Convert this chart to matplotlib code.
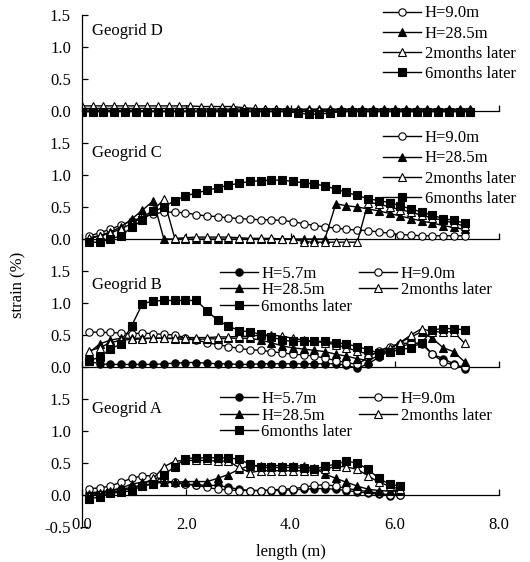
import matplotlib
matplotlib.use("Agg")
import matplotlib.pyplot as plt

plt.rcParams['font.family'] = ['Liberation Serif', 'DejaVu Serif']
plt.rcParams['font.size'] = 12

# --- data ---
# gauge positions (m)
x_d = [0.0, 0.21, 0.41, 0.62, 0.83, 1.04, 1.24, 1.45, 1.66, 1.86, 2.07, 2.28, 2.48,
       2.69, 2.9, 3.11, 3.31, 3.52, 3.73, 3.93, 4.14, 4.35, 4.55, 4.76, 4.97, 5.18,
       5.38, 5.59, 5.8, 6.0, 6.21, 6.42, 6.62, 6.83, 7.04, 7.25, 7.45]
x_c = [0.13, 0.34, 0.54, 0.75, 0.95, 1.16, 1.37, 1.57, 1.78, 1.98, 2.19, 2.40, 2.60,
       2.81, 3.01, 3.22, 3.43, 3.63, 3.84, 4.04, 4.25, 4.46, 4.66, 4.87, 5.07, 5.28,
       5.49, 5.69, 5.90, 6.10, 6.31, 6.52, 6.72, 6.93, 7.13, 7.34]
x_b = x_c
x_a = x_c[:30]

# Geogrid D
d_h90 = [0.02, 0.01, 0.01, 0.01, 0.01, 0.01, 0.0, 0.0, 0.0, 0.0, 0.0, 0.0, 0.0,
         0.01, 0.01, 0.0, 0.0, 0.0, 0.0, 0.0, 0.0, 0.0, 0.0, 0.0, 0.0, 0.0,
         0.0, 0.0, 0.0, 0.0, 0.0, 0.0, 0.0, 0.0, 0.0, 0.0, 0.0]
d_h285 = [0.04, 0.04, 0.04, 0.04, 0.04, 0.04, 0.04, 0.04, 0.04, 0.04, 0.04, 0.03, 0.03,
          0.03, 0.03, 0.03, 0.03, 0.03, 0.03, 0.03, 0.03, 0.03, 0.03, 0.03, 0.03, 0.03,
          0.03, 0.03, 0.03, 0.03, 0.03, 0.03, 0.03, 0.03, 0.03, 0.03, 0.03]
d_2m = [0.08, 0.08, 0.08, 0.08, 0.08, 0.08, 0.08, 0.08, 0.08, 0.08, 0.08, 0.07, 0.07,
        0.07, 0.07, 0.05, 0.04, 0.03, 0.03, 0.02, 0.02, 0.02, 0.02, 0.02, 0.02, 0.02,
        0.02, 0.02, 0.02, 0.02, 0.02, 0.02, 0.02, 0.02, 0.02, 0.02, 0.02]
d_6m = [-0.01, -0.01, -0.01, -0.01, -0.01, -0.01, -0.01, -0.01, -0.01, -0.01, -0.01, -0.01, -0.01,
        -0.01, -0.01, -0.01, -0.01, -0.01, -0.01, -0.01, -0.03, -0.05, -0.05, -0.03, -0.01, -0.01,
        -0.01, -0.01, -0.01, -0.01, -0.01, -0.01, -0.01, -0.01, -0.01, -0.01, -0.01]

# Geogrid C
c_h90 = [0.04, 0.10, 0.15, 0.22, 0.28, 0.34, 0.39, 0.42, 0.42, 0.41, 0.38, 0.36, 0.35,
         0.33, 0.32, 0.31, 0.30, 0.30, 0.29, 0.27, 0.24, 0.21, 0.19, 0.17, 0.15, 0.14,
         0.13, 0.11, 0.09, 0.07, 0.06, 0.05, 0.05, 0.05, 0.05, 0.05]
c_h285 = [0.0, 0.05, 0.11, 0.19, 0.31, 0.45, 0.60, 0.0, 0.0, 0.0, 0.0, 0.0, 0.0,
          0.0, 0.0, 0.0, 0.0, 0.0, 0.0, 0.0, 0.0, 0.0, 0.0, 0.55, 0.52, 0.50,
          0.47, 0.44, 0.40, 0.36, 0.32, 0.28, 0.25, 0.21, 0.18, 0.15]
c_2m = [0.02, 0.05, 0.09, 0.16, 0.24, 0.34, 0.45, 0.62, 0.01, 0.02, 0.03, 0.03, 0.03,
        0.03, 0.02, 0.01, 0.01, 0.01, 0.0, 0.0, -0.04, -0.05, -0.05, -0.05, -0.05, -0.05,
        0.57, 0.55, 0.50, 0.46, 0.42, 0.37, 0.33, 0.29, 0.25, 0.20]
c_6m = [-0.05, -0.05, 0.0, 0.05, 0.18, 0.30, 0.43, 0.50, 0.60, 0.67, 0.72, 0.76, 0.80,
        0.84, 0.87, 0.90, 0.91, 0.92, 0.92, 0.90, 0.88, 0.86, 0.83, 0.78, 0.73, 0.68,
        0.63, 0.60, 0.57, 0.52, 0.47, 0.42, 0.37, 0.32, 0.29, 0.25]

# Geogrid B
b_h57 = [0.09, 0.05, 0.04, 0.04, 0.04, 0.04, 0.04, 0.05, 0.06, 0.07, 0.07, 0.06, 0.05,
         0.05, 0.04, 0.04, 0.05, 0.05, 0.05, 0.05, 0.05, 0.05, 0.05, 0.05, 0.03, -0.02,
         0.05, 0.15, 0.25, 0.32, 0.36, 0.38, 0.20, 0.13, 0.05, -0.03]
b_h90 = [0.55, 0.54, 0.54, 0.53, 0.52, 0.53, 0.52, 0.51, 0.50, 0.46, 0.42, 0.38, 0.35,
         0.32, 0.29, 0.27, 0.26, 0.24, 0.22, 0.20, 0.19, 0.17, 0.14, 0.10, 0.07, 0.04,
         0.15, 0.25, 0.32, 0.36, 0.38, 0.36, 0.20, 0.08, 0.03, 0.0]
b_h285 = [0.22, 0.36, 0.42, 0.45, 0.45, 0.45, 0.45, 0.45, 0.44, 0.43, 0.43, 0.44, 0.44,
          0.45, 0.45, 0.45, 0.42, 0.38, 0.33, 0.30, 0.28, 0.26, 0.24, 0.20, 0.17, 0.13,
          0.10, 0.18, 0.28, 0.38, 0.47, 0.55, 0.45, 0.30, 0.24, 0.08]
b_2m = [0.25, 0.30, 0.38, 0.42, 0.43, 0.44, 0.45, 0.45, 0.45, 0.46, 0.46, 0.46, 0.47,
        0.47, 0.48, 0.48, 0.50, 0.50, 0.48, 0.45, 0.42, 0.40, 0.38, 0.35, 0.30, 0.25,
        0.20, 0.22, 0.30, 0.38, 0.50, 0.60, 0.55, 0.55, 0.55, 0.37]
b_6m = [0.10, 0.15, 0.28, 0.36, 0.64, 0.99, 1.03, 1.04, 1.04, 1.04, 1.04, 0.88, 0.73,
        0.64, 0.57, 0.55, 0.51, 0.47, 0.42, 0.40, 0.40, 0.40, 0.40, 0.38, 0.36, 0.32,
        0.27, 0.22, 0.24, 0.27, 0.30, 0.38, 0.58, 0.60, 0.60, 0.58]

# Geogrid A
a_h57 = [0.03, 0.05, 0.07, 0.09, 0.12, 0.15, 0.18, 0.20, 0.19, 0.17, 0.16, 0.15, 0.15,
         0.12, 0.09, 0.07, 0.07, 0.07, 0.07, 0.08, 0.09, 0.10, 0.10, 0.09, 0.07, 0.05,
         0.03, 0.01, -0.01, 0.0]
a_h90 = [0.10, 0.11, 0.14, 0.20, 0.26, 0.30, 0.30, 0.22, 0.20, 0.17, 0.15, 0.12, 0.09,
         0.08, 0.07, 0.07, 0.07, 0.08, 0.09, 0.10, 0.12, 0.15, 0.16, 0.14, 0.10, 0.08,
         0.05, 0.03, 0.0, 0.0]
a_h285 = [0.02, 0.03, 0.07, 0.11, 0.17, 0.20, 0.21, 0.21, 0.20, 0.21, 0.21, 0.21, 0.26,
          0.32, 0.40, 0.46, 0.46, 0.46, 0.46, 0.46, 0.45, 0.42, 0.33, 0.26, 0.20, 0.14,
          0.09, 0.07, 0.06, 0.06]
a_2m = [-0.02, 0.02, 0.04, 0.07, 0.10, 0.17, 0.26, 0.44, 0.53, 0.54, 0.54, 0.54, 0.53,
        0.53, 0.43, 0.35, 0.38, 0.38, 0.38, 0.38, 0.38, 0.38, 0.40, 0.45, 0.44, 0.40,
        0.30, 0.20, 0.14, 0.09]
a_6m = [-0.06, -0.03, 0.03, 0.04, 0.07, 0.14, 0.17, 0.32, 0.44, 0.57, 0.58, 0.58, 0.58,
        0.58, 0.56, 0.48, 0.43, 0.43, 0.43, 0.43, 0.42, 0.40, 0.45, 0.48, 0.53, 0.50,
        0.40, 0.26, 0.17, 0.14]

labels = {"h57": "H=5.7m", "h90": "H=9.0m", "h285": "H=28.5m",
          "2m": "2months later", "6m": "6months later"}

# marker, facecolor, size
styles = {"h57": ("o", "black", 5.3), "h90": ("o", "white", 5.3),
          "h285": ("^", "black", 6.0), "2m": ("^", "white", 6.0),
          "6m": ("s", "black", 5.3)}

panels = [
    ("Geogrid D", x_d, {"h90": d_h90, "h285": d_h285, "2m": d_2m, "6m": d_6m}, 1.25),
    ("Geogrid C", x_c, {"h90": c_h90, "h285": c_h285, "2m": c_2m, "6m": c_6m}, 1.35),
    ("Geogrid B", x_b, {"h57": b_h57, "h90": b_h90, "h285": b_h285, "2m": b_2m, "6m": b_6m}, 1.28),
    ("Geogrid A", x_a, {"h57": a_h57, "h90": a_h90, "h285": a_h285, "2m": a_2m, "6m": a_6m}, 1.34),
]

fig, axes = plt.subplots(4, 1, figsize=(5.3, 5.62), dpi=100, sharex=True)
fig.subplots_adjust(left=82 / 530, right=499 / 530, top=1 - 15 / 562,
                    bottom=1 - 527 / 562, hspace=0)

for i, (ax, (name, x, series, ty)) in enumerate(zip(axes, panels)):
    handles = {}
    for key, vals in series.items():
        mk, fc, ms = styles[key]
        h, = ax.plot(x, vals, color='black', lw=1.0, marker=mk, ms=ms,
                     mfc=fc, mec='black', mew=0.8, label=labels[key])
        handles[key] = h

    ax.set_xlim(0, 8)
    ax.set_ylim(-0.5, 1.5)
    last = i == len(axes) - 1
    ax.set_yticks([-0.5, 0.0, 0.5, 1.0, 1.5] if last else [0.0, 0.5, 1.0, 1.5])
    ax.yaxis.set_major_formatter(plt.FormatStrFormatter('%.1f'))
    ax.tick_params(axis='y', direction='in', length=4, width=0.9, pad=8)

    for s in ['top', 'right', 'bottom']:
        ax.spines[s].set_visible(False)
    ax.spines['left'].set_linewidth(0.9)

    ax.set_xticks([0, 2, 4, 6, 8])
    ax.xaxis.set_major_formatter(plt.FormatStrFormatter('%.1f'))
    ax.tick_params(axis='x', length=0, pad=-7, labelbottom=last)

    # horizontal axis line through zero
    sec = ax.secondary_xaxis(0.25)
    sec.set_xticks([0, 2, 4, 6, 8])
    sec.set_xticklabels([])
    sec.tick_params(direction='in', length=4, width=0.9)
    sec.spines['bottom'].set_linewidth(0.9)

    ax.text(0.2, ty, name, ha='left', va='center')

    if 'h57' in series:
        order = ['h57', 'h285', '6m', 'h90', '2m']
        ax.legend([handles[k] for k in order], [labels[k] for k in order],
                  ncol=2, loc='upper left', bbox_to_anchor=(0.33, 1.04 if i == 2 else 1.06),
                  frameon=False, borderpad=0, borderaxespad=0, handlelength=2.3,
                  handletextpad=0.2, labelspacing=0.02, columnspacing=0.4)
    else:
        ax.legend(frameon=False, loc='upper right',
                  bbox_to_anchor=(1.04, 1.075 if i == 0 else 1.1),
                  borderpad=0, borderaxespad=0, handlelength=2.3,
                  handletextpad=0.2, labelspacing=0.25)

axes[-1].set_xlabel("length (m)", labelpad=8)
fig.text(18 / 530, 1 - 285 / 562, "strain (%)", rotation=90, ha='center', va='center')

fig.savefig("out.png", dpi=100)
